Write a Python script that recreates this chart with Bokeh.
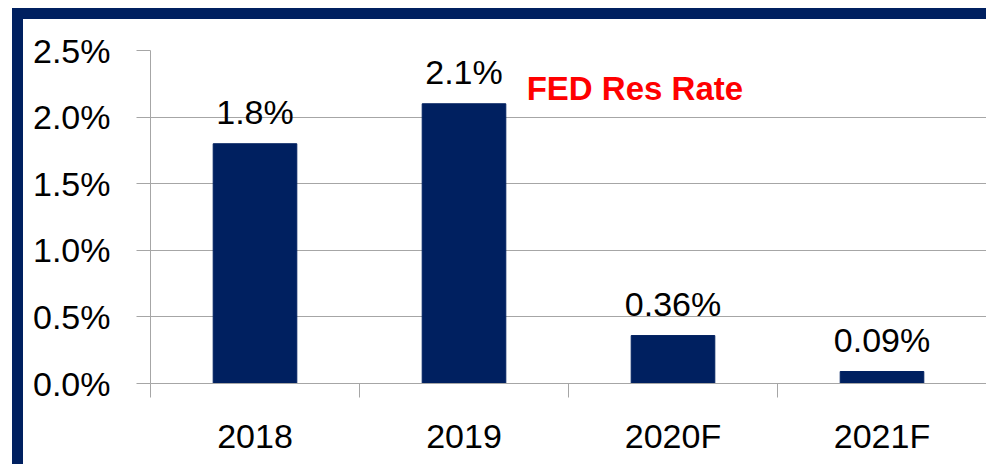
from bokeh.plotting import figure
from bokeh.models import (ColumnDataSource, FixedTicker, PrintfTickFormatter,
                          Label, LabelSet, Range1d)
from bokeh.embed import file_html
from bokeh.resources import INLINE
from bokeh.core.properties import value

categories = ["2018", "2019", "2020F", "2021F"]
rates = [1.8, 2.1, 0.36, 0.09]
rate_labels = ["1.8%", "2.1%", "0.36%", "0.09%"]
y_ticks = [0.0, 0.5, 1.0, 1.5, 2.0, 2.5]
title_text = "FED Res Rate"

NAVY = "#002060"
GRID = "#a6a6a6"
FONT = "Liberation Sans"

xs = [i + 0.5 for i in range(len(categories))]
src = ColumnDataSource(dict(x=xs, top=rates, label=rate_labels))

p = figure(width=974, height=456, output_backend="svg", toolbar_location=None,
           x_range=Range1d(0, len(categories)), y_range=Range1d(0, 2.5),
           min_border_left=127, min_border_right=11, min_border_top=31,
           min_border_bottom=92)
p.styles = {"margin-left": "12px", "margin-top": "8px",
            "border-left": "11px solid #002060", "border-top": "11px solid #002060"}
p.outline_line_color = None
p.background_fill_color = "white"
p.border_fill_color = "white"

p.vbar(x="x", top="top", width=0.4, source=src, fill_color=NAVY, line_color=NAVY)

p.add_layout(LabelSet(x="x", y="top", text="label", source=src, text_align="center",
                      text_baseline="alphabetic", y_offset=20,
                      text_font=value(FONT), text_font_size="34px", text_color="black"))

p.add_layout(Label(x=1.80, y=2.215, text=title_text, text_align="left",
                   text_baseline="alphabetic", text_font=FONT,
                   text_font_style="bold", text_font_size="33px", text_color="#ff0000"))

# y axis
p.yaxis.ticker = FixedTicker(ticks=y_ticks)
p.yaxis.formatter = PrintfTickFormatter(format="%.1f%%")
p.yaxis.axis_line_color = GRID
p.yaxis.major_tick_line_color = GRID
p.yaxis.major_tick_out = 14
p.yaxis.major_tick_in = 0
p.yaxis.minor_tick_line_color = None
p.yaxis.major_label_standoff = 26
p.yaxis.major_label_text_font = FONT
p.yaxis.major_label_text_font_size = "34px"
p.yaxis.major_label_text_color = "black"

# x axis
p.xaxis.ticker = FixedTicker(ticks=xs, minor_ticks=list(range(len(categories) + 1)))
p.xaxis.major_label_overrides = {x: c for x, c in zip(xs, categories)}
p.xaxis.axis_line_color = GRID
p.xaxis.major_tick_line_color = None
p.xaxis.major_tick_out = 0
p.xaxis.major_tick_in = 0
p.xaxis.minor_tick_line_color = GRID
p.xaxis.minor_tick_out = 14
p.xaxis.minor_tick_in = 0
p.xaxis.major_label_standoff = 19
p.xaxis.major_label_text_font = FONT
p.xaxis.major_label_text_font_size = "34px"
p.xaxis.major_label_text_color = "black"

p.xgrid.grid_line_color = None
p.ygrid.grid_line_color = GRID
p.ygrid.grid_line_width = 1

open("out.html", "w").write(file_html(p, INLINE))
